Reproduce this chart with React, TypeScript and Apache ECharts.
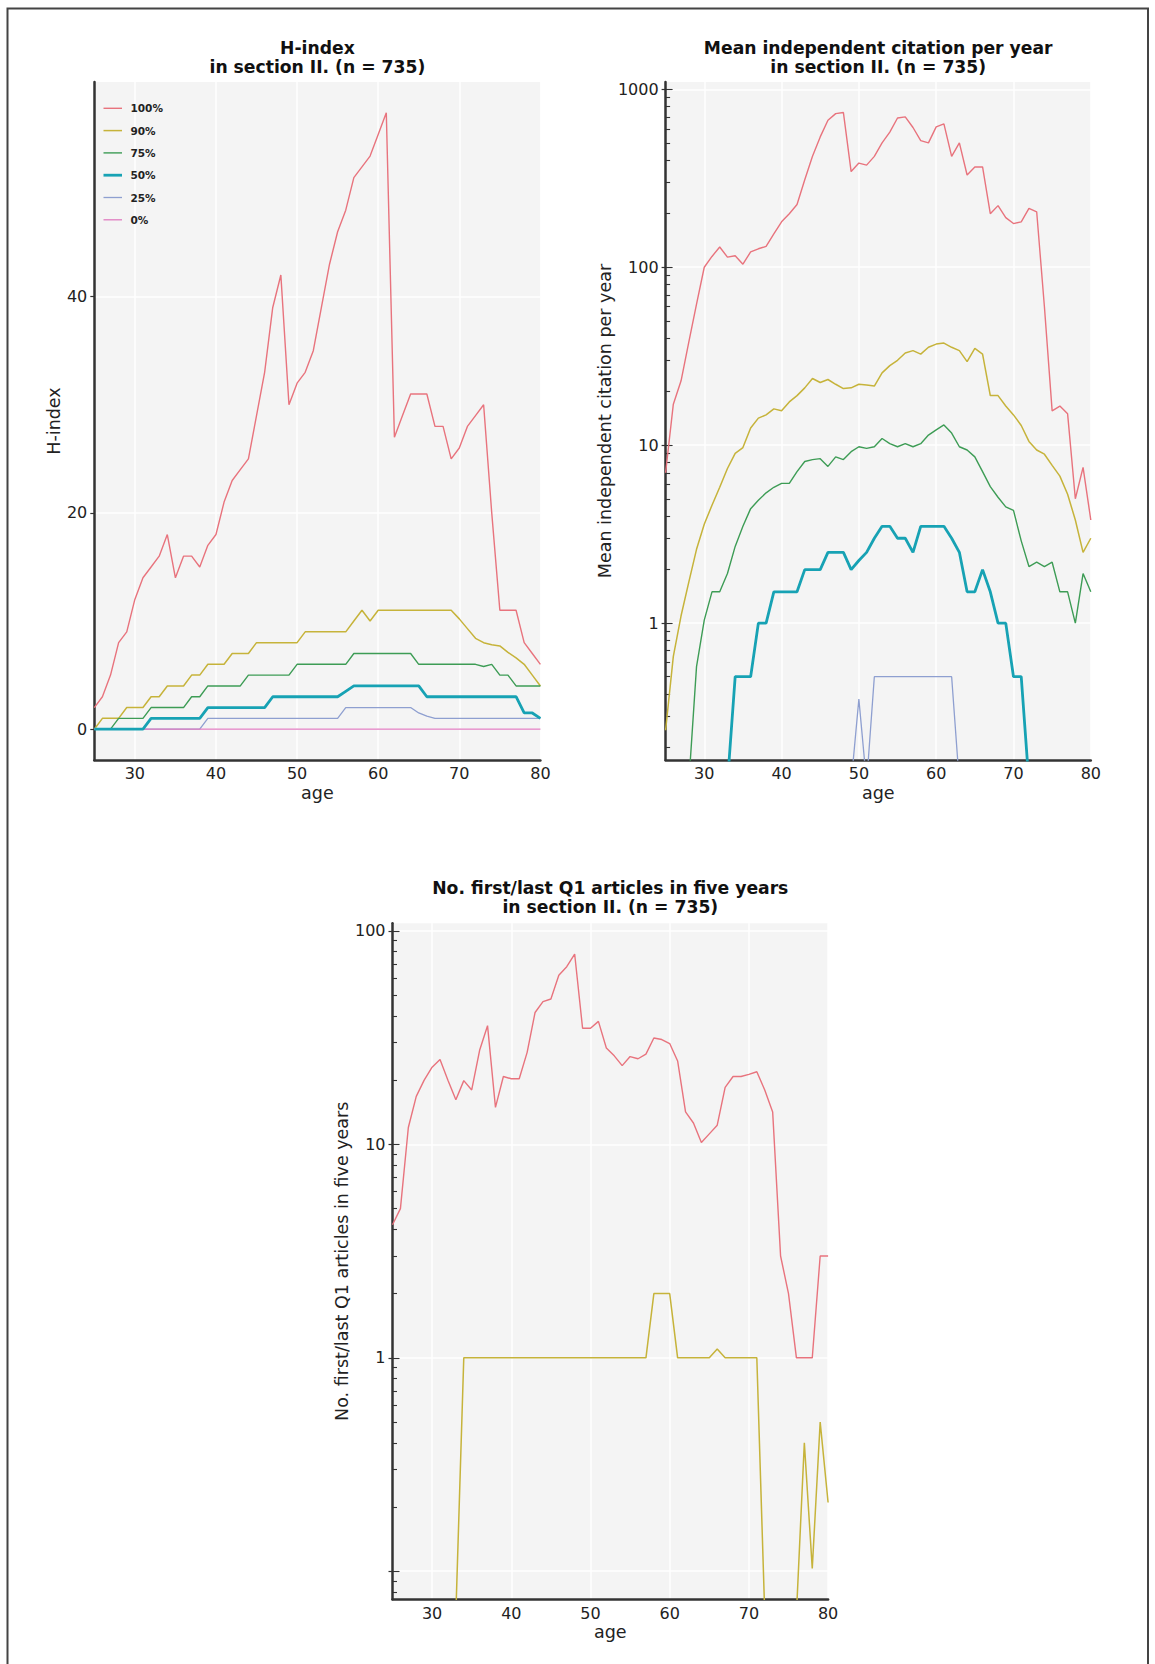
import React, { useEffect, useRef } from 'react';
import * as echarts from 'echarts';

const FONT = 'DejaVu Sans';

const ages = [25, 26, 27, 28, 29, 30, 31, 32, 33, 34, 35, 36, 37, 38, 39, 40, 41, 42, 43, 44, 45, 46, 47, 48, 49, 50, 51, 52, 53, 54, 55, 56, 57, 58, 59, 60, 61, 62, 63, 64, 65, 66, 67, 68, 69, 70, 71, 72, 73, 74, 75, 76, 77, 78, 79, 80];

const seriesNames = ['100%', '90%', '75%', '50%', '25%', '0%'];
const seriesColors = ['#e8737d', '#c6b33a', '#3d9c55', '#17a2b4', '#8e9fd0', '#e07cc0'];
const seriesWidths = [1.4, 1.5, 1.4, 2.8, 1.3, 1.3];

const xTicks = [30, 40, 50, 60, 70, 80];
const hTicks = [0, 20, 40];
const citTicks = [0, 1, 2, 3];
const q1Ticks = [-1, 0, 1, 2];
const q1Labels = [0, 1, 2];

// H-index percentiles by age
const h100 = [2, 3, 5, 8, 9, 12, 14, 15, 16, 18, 14, 16, 16, 15, 17, 18, 21, 23, 24, 25, 29, 33, 39, 42, 30, 32, 33, 35, 39, 43, 46, 48, 51, 52, 53, 55, 57, 27, 29, 31, 31, 31, 28, 28, 25, 26, 28, 29, 30, 20, 11, 11, 11, 8, 7, 6];
const h90 = [0, 1, 1, 1, 2, 2, 2, 3, 3, 4, 4, 4, 5, 5, 6, 6, 6, 7, 7, 7, 8, 8, 8, 8, 8, 8, 9, 9, 9, 9, 9, 9, 10, 11, 10, 11, 11, 11, 11, 11, 11, 11, 11, 11, 11, 10.2, 9.3, 8.4, 8, 7.8, 7.7, 7.1, 6.6, 6, 5, 4];
const h75 = [0, 0, 0, 1, 1, 1, 1, 2, 2, 2, 2, 2, 3, 3, 4, 4, 4, 4, 4, 5, 5, 5, 5, 5, 5, 6, 6, 6, 6, 6, 6, 6, 7, 7, 7, 7, 7, 7, 7, 7, 6, 6, 6, 6, 6, 6, 6, 6, 5.8, 6, 5, 5, 4, 4, 4, 4];
const h50 = [0, 0, 0, 0, 0, 0, 0, 1, 1, 1, 1, 1, 1, 1, 2, 2, 2, 2, 2, 2, 2, 2, 3, 3, 3, 3, 3, 3, 3, 3, 3, 3.5, 4, 4, 4, 4, 4, 4, 4, 4, 4, 3, 3, 3, 3, 3, 3, 3, 3, 3, 3, 3, 3, 1.5, 1.5, 1];
const h25 = [0, 0, 0, 0, 0, 0, 0, 0, 0, 0, 0, 0, 0, 0, 1, 1, 1, 1, 1, 1, 1, 1, 1, 1, 1, 1, 1, 1, 1, 1, 1, 2, 2, 2, 2, 2, 2, 2, 2, 2, 1.5, 1.2, 1, 1, 1, 1, 1, 1, 1, 1, 1, 1, 1, 1, 1, 1];
const h0 = [0, 0, 0, 0, 0, 0, 0, 0, 0, 0, 0, 0, 0, 0, 0, 0, 0, 0, 0, 0, 0, 0, 0, 0, 0, 0, 0, 0, 0, 0, 0, 0, 0, 0, 0, 0, 0, 0, 0, 0, 0, 0, 0, 0, 0, 0, 0, 0, 0, 0, 0, 0, 0, 0, 0, 0];

// Mean independent citation per year percentiles by age
const cit100 = [7, 17, 23, 38, 62, 100, 115, 130, 114, 116, 104, 122, 127, 131, 154, 180, 200, 225, 310, 420, 540, 670, 730, 740, 345, 385, 375, 420, 500, 575, 690, 700, 610, 515, 500, 615, 640, 420, 500, 330, 366, 366, 200, 222, 190, 176, 180, 214, 205, 60, 15.6, 16.6, 15, 5, 7.5, 3.8];
const cit90 = [0.25, 0.65, 1.1, 1.7, 2.6, 3.6, 4.6, 5.8, 7.4, 9, 9.7, 12.5, 14.2, 14.8, 16, 15.6, 17.5, 19, 21, 23.7, 22.5, 23.4, 22, 20.8, 21, 22, 21.8, 21.5, 25.5, 28, 30, 33, 34, 32.5, 35.5, 37, 37.5, 35.5, 34, 29.5, 35, 32.5, 19, 19, 16.6, 14.8, 12.9, 10.5, 9.4, 8.9, 7.7, 6.7, 5.3, 3.8, 2.5, 3];
const cit75 = [0, 0, 0, 0, 0.57, 1.04, 1.5, 1.5, 1.9, 2.7, 3.5, 4.4, 4.9, 5.4, 5.8, 6.1, 6.1, 7.1, 8.1, 8.3, 8.4, 7.6, 8.6, 8.3, 9.2, 9.8, 9.6, 9.8, 10.9, 10.2, 9.8, 10.2, 9.8, 10.2, 11.4, 12.2, 13, 11.7, 9.8, 9.4, 8.6, 7.1, 5.85, 5.1, 4.5, 4.3, 2.9, 2.08, 2.2, 2.08, 2.2, 1.5, 1.5, 1, 1.9, 1.5];
const cit50 = [0, 0, 0, 0, 0, 0, 0, 0, 0, 0.5, 0.5, 0.5, 1, 1, 1.5, 1.5, 1.5, 1.5, 2, 2, 2, 2.5, 2.5, 2.5, 2, 2.25, 2.5, 3, 3.5, 3.5, 3, 3, 2.5, 3.5, 3.5, 3.5, 3.5, 3, 2.5, 1.5, 1.5, 2, 1.5, 1, 1, 0.5, 0.5, 0, 0, 0, 0, 0, 0, 0, 0, 0];
const cit25 = [0, 0, 0, 0, 0, 0, 0, 0, 0, 0, 0, 0, 0, 0, 0, 0, 0, 0, 0, 0, 0, 0, 0, 0, 0, 0.375, 0, 0.5, 0.5, 0.5, 0.5, 0.5, 0.5, 0.5, 0.5, 0.5, 0.5, 0.5, 0, 0, 0, 0, 0, 0, 0, 0, 0, 0, 0, 0, 0, 0, 0, 0, 0, 0];

// No. first/last Q1 articles in five years by age
const q1_100 = [4.2, 5, 12, 16.8, 20, 23, 25, 20, 16.2, 19.9, 18, 27.6, 36, 14.9, 20.8, 20.3, 20.3, 27, 41.5, 46.7, 48, 62, 68, 78, 35, 35, 37.7, 28.3, 26, 23.4, 25.8, 25.2, 26.5, 31.5, 31, 29.7, 24.6, 14.2, 12.6, 10.2, 11.2, 12.3, 18.5, 20.8, 20.8, 21.3, 21.9, 18, 14.2, 3, 2, 1, 1, 1, 3, 3];
const q1_90 = [0, 0, 0, 0, 0, 0, 0, 0, 0, 1, 1, 1, 1, 1, 1, 1, 1, 1, 1, 1, 1, 1, 1, 1, 1, 1, 1, 1, 1, 1, 1, 1, 1, 2, 2, 2, 1, 1, 1, 1, 1, 1.1, 1, 1, 1, 1, 1, 0, 0, 0, 0, 0, 0.4, 0.103, 0.5, 0.21];

const CIT_FLOOR = -0.9;
const Q1_FLOOR = -1.2;

function toLog(v: number, floor: number): number {
  return v > 0 ? Math.log10(v) : floor;
}

function minorTickValues(lo: number, hi: number): number[] {
  const out: number[] = [];
  for (let n = -2; n <= 3; n++) {
    for (let k = 2; k <= 9; k++) {
      const lv = Math.log10(k * Math.pow(10, n));
      if (lv >= lo && lv <= hi) out.push(lv);
    }
  }
  return out;
}

const CIT_MIN = -0.769;
const CIT_MAX = 3.041;
const Q1_MIN = -1.131;
const Q1_MAX = 2.036;

const LABEL_SIZE = 16;
const NAME_SIZE = 17.5;

function xAxisCfg(gridIndex: number, nameGap: number, labelMargin: number) {
  return {
    type: 'value',
    gridIndex,
    min: 25,
    max: 80,
    axisLine: { show: true, onZero: false, lineStyle: { color: '#333333', width: 2.5 } },
    axisTick: { show: false, customValues: xTicks },
    axisLabel: { customValues: xTicks, fontSize: LABEL_SIZE, color: '#222222', margin: labelMargin, fontFamily: FONT },
    splitLine: { show: true, lineStyle: { color: '#ffffff', width: 1.5 } },
    name: 'age',
    nameLocation: 'middle',
    nameGap,
    nameTextStyle: { fontSize: NAME_SIZE, color: '#222222', fontFamily: FONT },
  };
}

function yAxisCfg(gridIndex: number, min: number, max: number, ticks: number[], labels: number[], name: string, nameGap: number, isLog: boolean) {
  return {
    type: 'value',
    gridIndex,
    position: 'left',
    min,
    max,
    axisLine: { show: true, onZero: false, lineStyle: { color: '#333333', width: 2.5 } },
    axisTick: { show: true, customValues: ticks, length: 4, inside: false, lineStyle: { color: '#333333', width: 1.2 } },
    axisLabel: {
      customValues: labels,
      fontSize: LABEL_SIZE,
      color: '#222222',
      margin: 7,
      fontFamily: FONT,
      formatter: isLog ? (v: number) => String(Math.round(Math.pow(10, v))) : (v: number) => String(v),
    },
    splitLine: { show: true, lineStyle: { color: '#ffffff', width: 1.5 } },
    name,
    nameLocation: 'middle',
    nameGap,
    nameTextStyle: { fontSize: NAME_SIZE, color: '#222222', fontFamily: FONT },
  };
}

// overlay axis that only draws inner tick marks of a log axis
function tickOnlyAxis(gridIndex: number, min: number, max: number, ticks: number[], len: number) {
  return {
    type: 'value',
    gridIndex,
    position: 'left',
    offset: 0,
    min,
    max,
    axisLine: { show: false, onZero: false },
    axisTick: { show: true, customValues: ticks, length: len, inside: true, lineStyle: { color: '#333333', width: 1.1 } },
    axisLabel: { show: false, customValues: ticks },
    splitLine: { show: false },
  };
}

function lineSeries(idx: number, name: string, colorIdx: number, values: number[], mapFn: (v: number) => number) {
  return {
    type: 'line',
    name,
    xAxisIndex: idx,
    yAxisIndex: idx,
    symbol: 'none',
    showSymbol: false,
    clip: true,
    silent: true,
    lineStyle: { color: seriesColors[colorIdx], width: seriesWidths[colorIdx] },
    itemStyle: { color: seriesColors[colorIdx] },
    data: ages.map((a, i) => [a, mapFn(values[i])]),
  };
}

export default function App() {
  const ref = useRef<HTMLDivElement>(null);

  useEffect(() => {
    if (!ref.current) return;
    const chart = echarts.init(ref.current, undefined, { renderer: 'svg' });

    const hSets = [h100, h90, h75, h50, h25, h0];
    const hOrder = [0, 1, 2, 4, 5, 3];
    const citSets = [cit100, cit90, cit75, cit50, cit25];
    const idt = (v: number) => v;
    const citMap = (v: number) => toLog(v, CIT_FLOOR);
    const q1Map = (v: number) => toLog(v, Q1_FLOOR);

    const series: any[] = [];
    hOrder.forEach((k) => series.push(lineSeries(0, seriesNames[k], k, hSets[k], idt)));
    citSets.forEach((arr, k) => series.push(lineSeries(1, seriesNames[k], k, arr, citMap)));
    series.push(lineSeries(2, seriesNames[0], 0, q1_100, q1Map));
    series.push(lineSeries(2, seriesNames[1], 1, q1_90, q1Map));

    const legendGraphics: any[] = [];
    seriesNames.forEach((n, i) => {
      const y = 108.3 + i * 22.3;
      legendGraphics.push({
        type: 'line',
        z: 20,
        shape: { x1: 103.5, y1: y, x2: 122, y2: y },
        style: { stroke: seriesColors[i], lineWidth: seriesWidths[i] },
      });
      legendGraphics.push({
        type: 'text',
        z: 20,
        x: 130.5,
        y,
        style: { text: n, fill: '#222222', fontSize: 10.5, fontWeight: 'bold', fontFamily: FONT, align: 'left', verticalAlign: 'middle' },
      });
    });

    const titleStyle = { fontFamily: FONT, fontSize: 17.2, fontWeight: 'bold', color: '#111111', lineHeight: 19 };

    chart.setOption({
      animation: false,
      backgroundColor: '#ffffff',
      textStyle: { fontFamily: FONT },
      title: [
        { text: 'H-index\nin section II. (n = 735)', left: 317.4, top: 38.5, padding: 0, textAlign: 'center', textStyle: titleStyle },
        { text: 'Mean independent citation per year\nin section II. (n = 735)', left: 878.2, top: 38.5, padding: 0, textAlign: 'center', textStyle: titleStyle },
        { text: 'No. first/last Q1 articles in five years\nin section II. (n = 735)', left: 610.3, top: 878, padding: 0, textAlign: 'center', textStyle: titleStyle },
      ],
      grid: [
        { left: 94.3, top: 82, width: 446.1, height: 678, show: true, backgroundColor: '#f4f4f4', borderWidth: 0, containLabel: false },
        { left: 665.6, top: 82, width: 425.2, height: 678, show: true, backgroundColor: '#f4f4f4', borderWidth: 0, containLabel: false },
        { left: 392.5, top: 923.3, width: 435.6, height: 675.9, show: true, backgroundColor: '#f4f4f4', borderWidth: 0, containLabel: false },
      ],
      xAxis: [xAxisCfg(0, 24, 5), xAxisCfg(1, 24, 5), xAxisCfg(2, 24, 6)],
      yAxis: [
        yAxisCfg(0, -2.85, 59.85, hTicks, hTicks, 'H-index', 30, false),
        yAxisCfg(1, CIT_MIN, CIT_MAX, citTicks, citTicks, 'Mean independent citation per year', 50, true),
        yAxisCfg(2, Q1_MIN, Q1_MAX, q1Ticks, q1Labels, 'No. first/last Q1 articles in five years', 41, true),
        tickOnlyAxis(1, CIT_MIN, CIT_MAX, minorTickValues(CIT_MIN, CIT_MAX), 4.5),
        tickOnlyAxis(1, CIT_MIN, CIT_MAX, citTicks, 7),
        tickOnlyAxis(2, Q1_MIN, Q1_MAX, minorTickValues(Q1_MIN, Q1_MAX), 4.5),
        tickOnlyAxis(2, Q1_MIN, Q1_MAX, q1Ticks, 7),
      ],
      graphic: [
        {
          type: 'rect',
          z: 30,
          silent: true,
          shape: { x: 7.5, y: 8.5, width: 1140.5, height: 1660 },
          style: { fill: 'none', stroke: '#444444', lineWidth: 2 },
        },
        ...legendGraphics,
      ],
      series,
    });

    return () => {
      chart.dispose();
    };
  }, []);

  return (
    <div
      ref={ref}
      style={{ position: 'absolute', left: 0, top: 0, width: 1155, height: 1664, background: '#ffffff', overflow: 'hidden' }}
    />
  );
}
